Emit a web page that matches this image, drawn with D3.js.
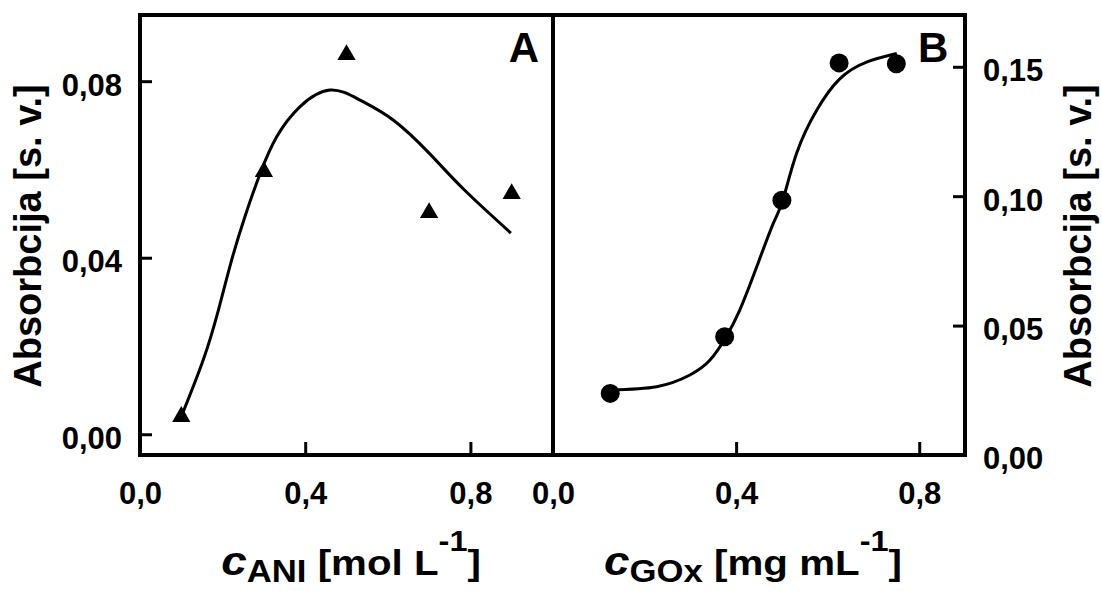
<!DOCTYPE html>
<html>
<head>
<meta charset="utf-8">
<script src="https://cdn.jsdelivr.net/npm/d3@7"></script>
<style>
  html, body { margin: 0; padding: 0; background: #fff; }
  svg { display: block; }
  text { font-family: "Liberation Sans", Arial, sans-serif; font-weight: bold; fill: #000; }
</style>
</head>
<body>
<svg id="chart" width="1102" height="591"></svg>
<script>
// ---- Data ----
// Panel A: absorbance vs aniline concentration
const aniConc = [0.1, 0.3, 0.5, 0.7, 0.9];
const aniAbs  = [0.004, 0.0595, 0.086, 0.0502, 0.0545];
// fitted curve A
const fitAniX = [0.10, 0.153, 0.190, 0.222, 0.254, 0.291, 0.331, 0.387, 0.460, 0.533, 0.613, 0.70, 0.785, 0.898];
const fitAniY = [0.0040, 0.0168, 0.0282, 0.0395, 0.0493, 0.0591, 0.0674, 0.0742, 0.0780, 0.0757, 0.0712, 0.0637, 0.0554, 0.0456];

// Panel B: absorbance vs GOx concentration
const goxConc = [0.125, 0.375, 0.5, 0.625, 0.75];
const goxAbs  = [0.0238, 0.0457, 0.0984, 0.1515, 0.1512];
const fitGoxX = [0.125, 0.2265, 0.299, 0.343, 0.376, 0.408, 0.445, 0.481, 0.502, 0.532, 0.576, 0.627, 0.685, 0.751];
const fitGoxY = [0.0252, 0.0264, 0.0309, 0.0367, 0.0450, 0.0560, 0.0727, 0.0894, 0.0984, 0.1165, 0.1332, 0.1454, 0.1518, 0.1551];

// Tick values
const xTicksA = [0.0, 0.4, 0.8];
const yTicksA = [0.00, 0.04, 0.08];
const xTicksB = [0.0, 0.4, 0.8];
const yTicksB = [0.00, 0.05, 0.10, 0.15];

// ---- Layout ----
const svg = d3.select("#chart");
const plotTop = 15, plotBottom = 455;
const leftA = 140, rightA = 553, rightB = 965;

const xA = d3.scaleLinear().domain([0, 1.0]).range([leftA, rightA]);
const yA = d3.scaleLinear().domain([-0.0047, 0.095]).range([plotBottom, plotTop]);
const xB = d3.scaleLinear().domain([0, 0.9]).range([rightA, rightB]);
const yB = d3.scaleLinear().domain([0, 0.17]).range([plotBottom, plotTop]);

const loc = d3.formatLocale({decimal: ",", thousands: ".", grouping: [3], currency: ["", ""]});
const f1 = loc.format(".1f"), f2 = loc.format(".2f");

function styleAxis(g, size) {
  g.select(".domain").remove();
  g.selectAll(".tick line").attr("stroke", "#000").attr("stroke-width", 3);
  g.selectAll(".tick text").attr("font-size", size).attr("font-family", null).attr("fill", "#000");
}

// Panel A axes
svg.append("g").attr("transform", `translate(${leftA},0)`)
  .call(d3.axisLeft(yA).tickValues(yTicksA).tickSize(-12).tickPadding(18).tickFormat(f2))
  .call(g => styleAxis(g, 31))
  .call(g => g.selectAll(".tick text").attr("dy", "0.45em"));
svg.append("g").attr("transform", `translate(0,${plotBottom})`)
  .call(d3.axisBottom(xA).tickValues(xTicksA).tickSize(-13).tickPadding(27).tickFormat(f1))
  .call(g => styleAxis(g, 31));

// Panel B axes
svg.append("g").attr("transform", `translate(${rightB},0)`)
  .call(d3.axisRight(yB).tickValues(yTicksB).tickSize(-12).tickPadding(18).tickFormat(f2))
  .call(g => styleAxis(g, 31))
  .call(g => g.selectAll(".tick text").attr("dy", "0.45em"));
svg.append("g").attr("transform", `translate(0,${plotBottom})`)
  .call(d3.axisBottom(xB).tickValues(xTicksB).tickSize(-13).tickPadding(27).tickFormat(f1))
  .call(g => styleAxis(g, 31));

// Frame
svg.append("rect").attr("x", leftA).attr("y", plotTop)
  .attr("width", rightB - leftA).attr("height", plotBottom - plotTop)
  .attr("fill", "none").attr("stroke", "#000").attr("stroke-width", 4);
svg.append("line").attr("x1", rightA).attr("x2", rightA).attr("y1", plotTop).attr("y2", plotBottom)
  .attr("stroke", "#000").attr("stroke-width", 4);

// Curves
const lineA = d3.line().x((d, i) => xA(fitAniX[i])).y((d, i) => yA(fitAniY[i])).curve(d3.curveNatural);
svg.append("path").attr("d", lineA(fitAniX)).attr("fill", "none").attr("stroke", "#000").attr("stroke-width", 3);
const lineB = d3.line().x((d, i) => xB(fitGoxX[i])).y((d, i) => yB(fitGoxY[i])).curve(d3.curveNatural);
svg.append("path").attr("d", lineB(fitGoxX)).attr("fill", "none").attr("stroke", "#000").attr("stroke-width", 3);

// Markers
const tri = d3.symbol().type(d3.symbolTriangle).size(145);
svg.append("g").selectAll("path").data(aniConc).join("path")
  .attr("d", tri)
  .attr("transform", (d, i) => `translate(${xA(d)},${yA(aniAbs[i])})`)
  .attr("fill", "#000");
svg.append("g").selectAll("circle").data(goxConc).join("circle")
  .attr("cx", d => xB(d)).attr("cy", (d, i) => yB(goxAbs[i])).attr("r", 9.5)
  .attr("fill", "#000");

// Panel letters
svg.append("text").attr("x", 539).attr("y", 62).attr("text-anchor", "end").attr("font-size", 42).text("A");
svg.append("text").attr("x", 918).attr("y", 62).attr("text-anchor", "start").attr("font-size", 42).text("B");

// Y titles
svg.append("text").attr("transform", "translate(41,236) rotate(-90)").attr("text-anchor", "middle")
  .attr("font-size", 38).text("Absorbcija [s. v.]");
svg.append("text").attr("transform", "translate(1091,236) rotate(-90)").attr("text-anchor", "middle")
  .attr("font-size", 38).text("Absorbcija [s. v.]");

// X titles
function xTitle(cx, sub, unit) {
  const t = svg.append("text").attr("transform", `translate(${cx},575) scale(1.12,1)`).attr("text-anchor", "middle");
  t.append("tspan").attr("font-size", 41).attr("font-style", "italic").text("c");
  t.append("tspan").attr("font-size", 31).attr("dy", 7).text(sub);
  t.append("tspan").attr("font-size", 36).attr("dy", -7).text(" [" + unit);
  t.append("tspan").attr("font-size", 29).attr("dy", -24).text("-1");
  t.append("tspan").attr("font-size", 36).attr("dy", 24).text("]");
}
xTitle(351, "ANI", "mol L");
xTitle(753, "GOx", "mg mL");
</script>
</body>
</html>
